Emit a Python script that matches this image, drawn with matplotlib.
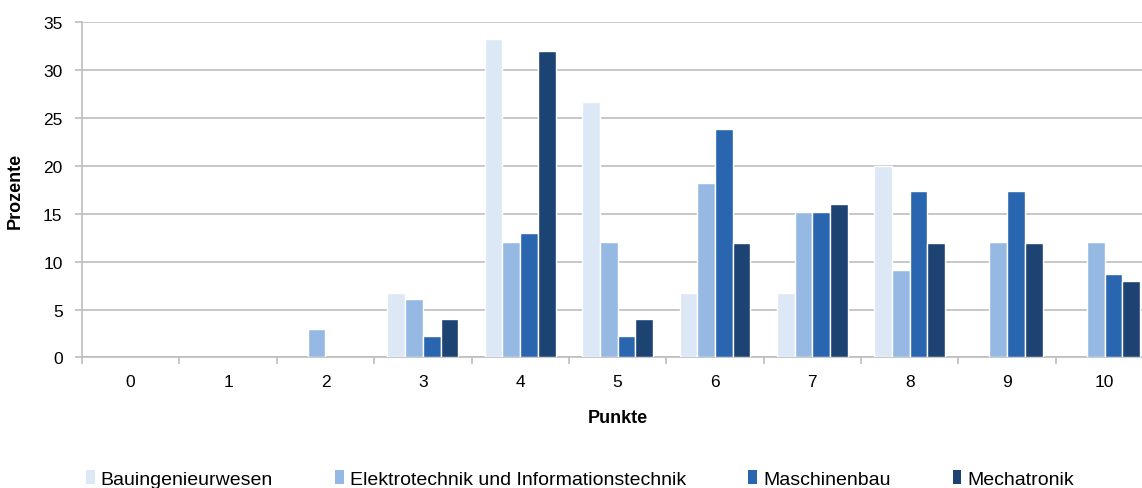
import matplotlib
matplotlib.use("Agg")
import matplotlib.pyplot as plt
from matplotlib.patches import Patch
import numpy as np

plt.rcParams['font.family'] = ['Liberation Sans', 'DejaVu Sans']

punkte = [0, 1, 2, 3, 4, 5, 6, 7, 8, 9, 10]
series = ['Bauingenieurwesen', 'Elektrotechnik und Informationstechnik',
          'Maschinenbau', 'Mechatronik']
bau = [0, 0, 0, 6.7, 33.3, 26.7, 6.7, 6.7, 20.0, 0, 0]
elektro = [0, 0, 3.0, 6.1, 12.1, 12.1, 18.2, 15.2, 9.1, 12.1, 12.1]
masch = [0, 0, 0, 2.2, 13.0, 2.2, 23.9, 15.2, 17.4, 17.4, 8.7]
mecha = [0, 0, 0, 4.0, 32.0, 4.0, 12.0, 16.0, 12.0, 12.0, 8.0]
colors = ['#DCE8F5', '#96B9E3', '#2A66B0', '#1D4373']

fig = plt.figure(figsize=(11.42, 4.89), dpi=100)
ax = fig.add_axes([0.0718, 0.267, 0.938, 0.685])

x = np.arange(len(punkte))
pitch = 0.182
for i, (vals, col) in enumerate(zip([bau, elektro, masch, mecha], colors)):
    lws = [1.0 if v > 0 else 0 for v in vals]
    ax.bar(x + (i - 1.5) * pitch, vals, width=pitch, color=col,
           edgecolor='white', linewidth=lws, zorder=3)

grid_c = '#BEBEBE'
ax.set_xlim(-0.5, 10.5)
ax.set_ylim(0, 35)
ax.set_yticks(range(0, 36, 5))
ax.yaxis.grid(True, color=grid_c, linewidth=1.2, zorder=0)
ax.set_xticks(x)
ax.set_xticklabels([str(p) for p in punkte])
ax.set_xticks(np.arange(-0.5, 11, 1), minor=True)
ax.tick_params(axis='x', which='major', length=0, labelsize=12.5, pad=12)
ax.tick_params(axis='x', which='minor', length=5, color=grid_c, width=1.2)
ax.tick_params(axis='y', length=5, color=grid_c, width=1.2, labelsize=12.5, pad=9)

for s in ['top', 'right']:
    ax.spines[s].set_visible(False)
for s in ['left', 'bottom']:
    ax.spines[s].set_color(grid_c)
    ax.spines[s].set_linewidth(1.2)

ax.set_xlabel('Punkte', fontsize=13, fontweight='bold', labelpad=14)
ax.set_ylabel('Prozente', fontsize=13, fontweight='bold', labelpad=14)

handles = [Patch(facecolor=c, edgecolor='none') for c in colors]
fig.legend(handles, series, loc='lower center', bbox_to_anchor=(0.508, -0.035),
           ncol=4, frameon=False, fontsize=14, handlelength=0.45,
           handleheight=0.7, handletextpad=0.3, columnspacing=3.2)

fig.savefig('out.png', dpi=100)
